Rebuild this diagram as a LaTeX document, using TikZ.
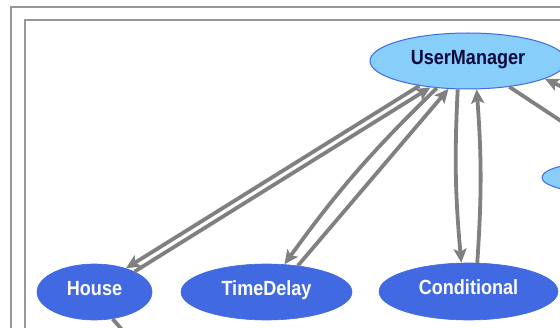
\documentclass[tikz,border=0pt]{standalone}
\usepackage{fontspec}
\setmainfont{Liberation Sans}
\newfontfamily\nodefont[FakeStretch=0.88]{Liberation Sans}
\usetikzlibrary{arrows.meta,shapes.geometric}
\definecolor{edgegray}{RGB}{128,128,128}
\definecolor{framegray}{RGB}{150,150,150}
\definecolor{royal}{RGB}{65,105,225}
\definecolor{skyfill}{RGB}{135,206,250}
\definecolor{navytext}{RGB}{10,10,60}
\begin{document}
\begin{tikzpicture}[x=1pt,y=1pt,
  every node/.style={ellipse, inner sep=0pt, text height=14.7pt, text depth=8pt,
    font=\nodefont\fontsize{20.5}{22}\selectfont\bfseries},
  mgr/.style={fill=skyfill, draw=royal, line width=1pt, text=navytext},
  leaf/.style={fill=royal, draw=royal, line width=0.6pt, text=white},
  link/.style={draw=edgegray, line width=3.8pt,
    -{Stealth[length=14pt 0,width=13pt 0,inset=3pt 0]}},
  plain/.style={draw=edgegray, line width=3.8pt},
  frame/.style={draw=framegray, line width=1.6pt}]
\useasboundingbox (0,0) rectangle (560,327);
\clip (0,0) rectangle (560,327);

% nested cluster borders
\draw[frame] (11,320) rectangle (640,-40);
\draw[frame] (25,307) rectangle (640,-40);

% nodes
\node[mgr, minimum width=196pt, minimum height=56pt] (um) at (468,266) {UserManager};
\node[mgr, minimum width=120pt, minimum height=31pt, text height=0pt, text depth=0pt] (side) at (602,149.5) {};
\node[leaf, minimum width=115pt, minimum height=56pt] (house) at (94.5,35) {House};
\node[leaf, minimum width=171pt, minimum height=56pt] (td) at (266.5,35) {TimeDelay};
\node[leaf, minimum width=179pt, minimum height=57pt] (cond) at (468.5,35.5) {Conditional};

% free ends of edges leaving the view
\coordinate (umout) at (620,167);
\coordinate (umin) at (600,222);
\coordinate (houseout) at (130,-12);

% edges
\draw[link] (um.207.9) -- (house.37.6);
\draw[link] (house.27.5) -- (um.215.4);
\draw[link] (um.221) to[bend right=5] (td.57.5);
\draw[link] (td.40.6) -- (um.235.4);
\draw[link] (um.250.3) to[bend right=4] (cond.104.3);
\draw[link] (cond.73.4) to[bend right=4] (um.287);
\draw[plain] (um.328.2) -- (umout);
\draw[link] (umin) -- (um.347.3);
\draw[plain] (house.304.4) -- (houseout);
\end{tikzpicture}
\end{document}
